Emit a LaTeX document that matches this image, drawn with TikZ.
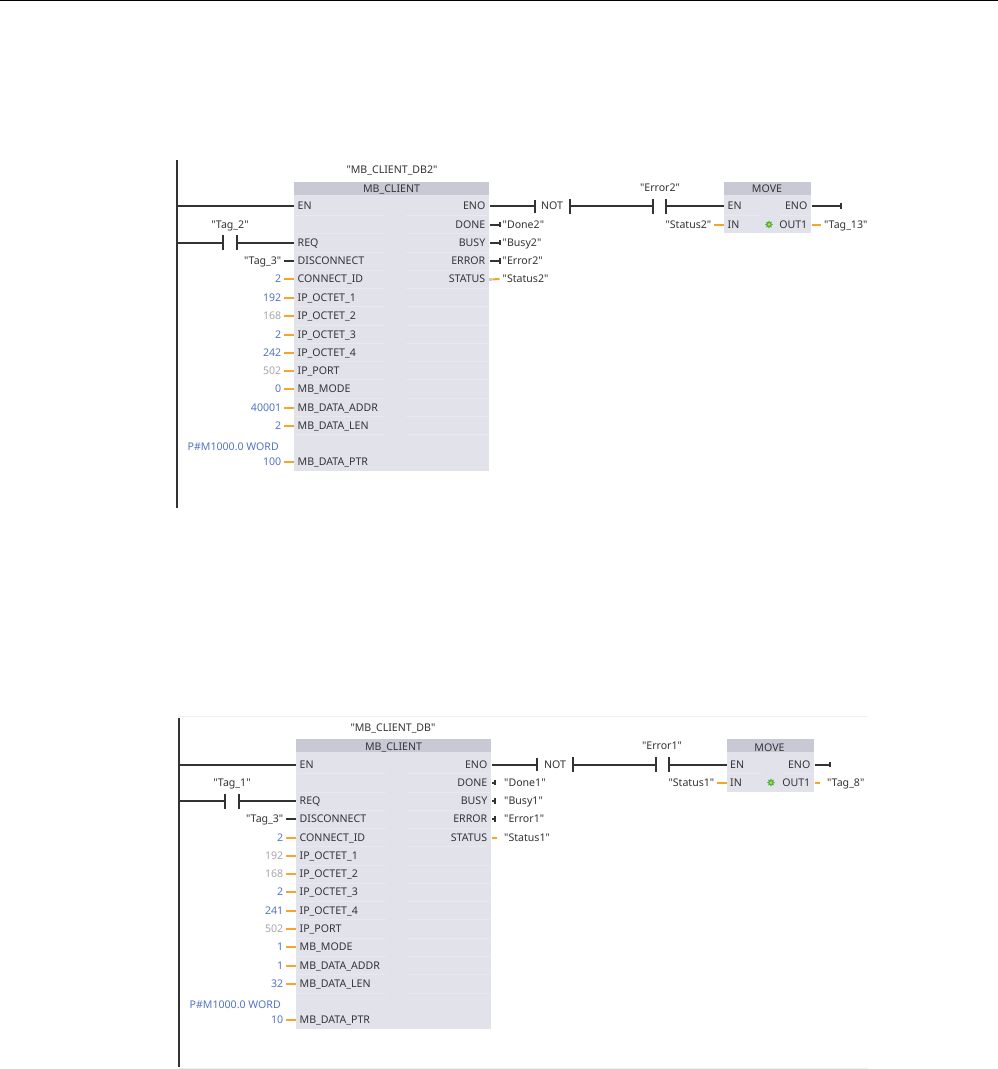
\documentclass[tikz,border=0pt]{standalone}
\usepackage{fontspec}
\newfontfamily\plcfont{Noto Sans}
\usetikzlibrary{shapes.geometric}
\definecolor{wiredark}{HTML}{333333}
\definecolor{wireorange}{HTML}{F5A52A}
\definecolor{valblue}{HTML}{5474C4}
\definecolor{valgrey}{HTML}{A8A8A8}
\definecolor{txt}{HTML}{333338}
\definecolor{blockbody}{HTML}{E2E2EA}
\definecolor{blockhead}{HTML}{C9C9D6}
\definecolor{rowline}{HTML}{E8E8EE}
\tikzset{
  lbl/.style={font=\plcfont\fontsize{10.6}{12}\selectfont,text=txt,inner ysep=0pt,inner xsep=0pt,text height=7.8pt,text depth=0.3pt},
  pinl/.style={lbl,anchor=west,inner xsep=3.5pt},
  pinr/.style={lbl,anchor=east,inner xsep=3.5pt},
  valnode/.style={lbl,anchor=east,inner xsep=2.5pt},
  outval/.style={lbl,anchor=west,inner xsep=3pt},
  bar/.style={fill=wiredark,inner sep=0pt,minimum width=2pt,minimum height=15pt},
  tick/.style={fill=wiredark,inner sep=0pt,minimum width=1.5pt,minimum height=5.5pt},
  rail/.style={draw=wiredark,line width=2.4pt},
  wire/.style={draw=wiredark,line width=2pt},
  owire/.style={draw=wireorange,line width=2pt},
  body/.style={fill=blockbody,draw=none},
  head/.style={fill=blockhead,draw=none},
  faint/.style={draw=rowline,line width=1pt},
}
% \leftpin{id}{blockx}{y}{pin text}{value}{value colour}{wire style}
\newcommand{\leftpin}[7]{%
  \node[pinl] (#1p) at (#2,#3) {#4};
  \node[valnode,text=#6] (#1v) at (#2-10,#3) {#5};
  \draw[#7] (#1v.east) -- (#1p.west);
}
% \outbit{id}{blockx}{y}{pin text}{tick x}{text x}{text}
\newcommand{\outbit}[7]{%
  \node[pinr] (#1p) at (#2,#3) {#4};
  \node[tick] (#1t) at (#5,#3) {};
  \node[outval] (#1v) at (#6,#3) {#7};
  \draw[wire] ([xshift=1pt]#1p.east) -- (#1t);
}
\newcommand{\rowseps}[3]{%
  \foreach \yy in {#3} {
    \draw[faint] (#1+1,\yy) -- (#1+90,\yy);
    \draw[faint] (#2-83,\yy) -- (#2-1,\yy);
  }
}
\begin{document}
\begin{tikzpicture}[x=1pt,y=-1pt]
\useasboundingbox (0,0) rectangle (998,1069);
\fill[white] (0,0) rectangle (998,1069);
\draw[black,line width=1pt] (0,0.8) -- (998,0.8);

% ---------- upper network ----------
\coordinate (ta) at (177,160);
\coordinate (tb) at (177,508);
\draw[rail] (ta) -- (tb);
\fill[body] (294,182) rectangle (489,471);
\fill[head] (294,182) rectangle (489,195);
\rowseps{294}{489}{215.3,233.6,252,270,288.2,306.7,325.2,343.5,361.5,379.7,398.2,416.5,434.5}
\node[lbl,anchor=center] (ahd) at (391.5,188.5) {MB\_CLIENT};
\node[lbl,anchor=center] (adb) at (392,170) {"MB\_CLIENT\_DB2"};

\node[pinl] (aen) at (294,206) {EN};
\draw[wire] (ta |- aen) -- (aen.west);
\node[bar] (ac1) at (223,242.5) {};
\node[bar] (ac2) at (237,242.5) {};
\node[lbl,anchor=center] (atag) at (230,225) {"Tag\_2"};
\node[pinl] (areq) at (294,242.5) {REQ};
\draw[wire] (ta |- ac1) -- (ac1);
\draw[wire] (ac2) -- (areq.west);
\leftpin{ad}{294}{261}{DISCONNECT}{"Tag\_3"}{txt}{wire}
\leftpin{ae}{294}{279}{CONNECT\_ID}{2}{valblue}{owire}
\leftpin{af}{294}{297.5}{IP\_OCTET\_1}{192}{valblue}{owire}
\leftpin{ag}{294}{316}{IP\_OCTET\_2}{168}{valgrey}{owire}
\leftpin{ah}{294}{334.5}{IP\_OCTET\_3}{2}{valblue}{owire}
\leftpin{ai}{294}{352.5}{IP\_OCTET\_4}{242}{valblue}{owire}
\leftpin{aj}{294}{370.5}{IP\_PORT}{502}{valgrey}{owire}
\leftpin{ak}{294}{389}{MB\_MODE}{0}{valblue}{owire}
\leftpin{al}{294}{407.5}{MB\_DATA\_ADDR}{40001}{valblue}{owire}
\leftpin{am}{294}{425.5}{MB\_DATA\_LEN}{2}{valblue}{owire}
\leftpin{an}{294}{462}{MB\_DATA\_PTR}{100}{valblue}{owire}
\node[lbl,anchor=east,text=valblue] (aptr) at (279,447) {P\#M1000.0 WORD};

\node[pinr] (aeno) at (489,206) {ENO};
\node[tick,minimum height=13pt] (an1) at (535,206) {};
\node[lbl,anchor=center] (anot) at (552,206) {NOT};
\node[bar] (an2) at (570,206) {};
\node[bar] (ae1) at (653,206) {};
\node[bar] (ae2) at (666,206) {};
\node[lbl,anchor=center] (aerr) at (660,188) {"Error2"};
\draw[wire] ([xshift=1pt]aeno.east) -- (an1);
\draw[wire] (an2) -- (ae1);
\outbit{ao}{489}{224.5}{DONE}{500}{499.5}{"Done2"}
\outbit{aq}{489}{242.5}{BUSY}{500}{499.5}{"Busy2"}
\outbit{ar}{489}{261}{ERROR}{500}{499.5}{"Error2"}
\node[pinr] (ast) at (489,279) {STATUS};
\node[outval] (asv) at (499.5,279) {"Status2"};
\node[fill=valgrey!60,inner sep=0pt,minimum width=3.5pt,minimum height=3.5pt] (asb) at (490.5,279.5) {};
\draw[owire] (asb) -- (asv.west);

\fill[body] (724,182) rectangle (811,233);
\fill[head] (724,182) rectangle (811,195);
\draw[faint] (725,215.3) -- (760,215.3);
\draw[faint] (780,215.3) -- (810,215.3);
\node[lbl,anchor=center] (amh) at (767,189) {MOVE};
\node[pinl] (amen) at (724,206) {EN};
\draw[wire] (ae2) -- (amen.west);
\node[pinl] (amin) at (724,224.5) {IN};
\node[valnode] (amiv) at (714,224.5) {"Status2"};
\draw[owire] (amiv.east) -- (amin.west);
\node[pinr] (ameno) at (811,206) {ENO};
\node[tick] (amt) at (841,206) {};
\draw[wire] ([xshift=1pt]ameno.east) -- (amt);
\node[pinr] (amo) at (811,224.5) {OUT1};
\node[outval] (amov) at (821,224.5) {"Tag\_13"};
\draw[owire] ([xshift=1pt]amo.east) -- (amov.west);
\node[star,star points=8,star point ratio=1.6,fill=green!55!black!70,inner sep=0pt,minimum size=8pt] (amst) at (769,224.5) {};
\node[circle,fill=yellow!80!green,inner sep=0pt,minimum size=3pt] (amsc) at (amst) {};

% ---------- lower network ----------
\draw[rowline!70,line width=1pt] (178,716) -- (868,716);
\draw[rowline!70,line width=1pt] (178,1068) -- (868,1068);
\coordinate (ba) at (179,718);
\coordinate (bb) at (179,1067);
\draw[rail] (ba) -- (bb);
\fill[body] (296,739) rectangle (491,1029);
\fill[head] (296,739) rectangle (491,752);
\rowseps{296}{491}{773.8,792,810.5,828.5,846.8,865,883.2,901.5,919.7,938,956.5,974.7,993}
\node[lbl,anchor=center] (bhd) at (393.5,747) {MB\_CLIENT};
\node[lbl,anchor=center] (bdb) at (393,727.5) {"MB\_CLIENT\_DB"};

\node[pinl] (ben) at (296,764.5) {EN};
\draw[wire] (ba |- ben) -- (ben.west);
\node[bar] (bc1) at (225,801) {};
\node[bar] (bc2) at (239,801) {};
\node[lbl,anchor=center] (btag) at (232,782.5) {"Tag\_1"};
\node[pinl] (breq) at (296,801) {REQ};
\draw[wire] (ba |- bc1) -- (bc1);
\draw[wire] (bc2) -- (breq.west);
\leftpin{bd}{296}{819}{DISCONNECT}{"Tag\_3"}{txt}{wire}
\leftpin{be}{296}{837.5}{CONNECT\_ID}{2}{valblue}{owire}
\leftpin{bf}{296}{855.5}{IP\_OCTET\_1}{192}{valgrey}{owire}
\leftpin{bg}{296}{874}{IP\_OCTET\_2}{168}{valgrey}{owire}
\leftpin{bh}{296}{892}{IP\_OCTET\_3}{2}{valblue}{owire}
\leftpin{bi}{296}{910.5}{IP\_OCTET\_4}{241}{valblue}{owire}
\leftpin{bj}{296}{928.5}{IP\_PORT}{502}{valgrey}{owire}
\leftpin{bk}{296}{947}{MB\_MODE}{1}{valblue}{owire}
\leftpin{bl}{296}{965.5}{MB\_DATA\_ADDR}{1}{valblue}{owire}
\leftpin{bm}{296}{983.5}{MB\_DATA\_LEN}{32}{valblue}{owire}
\leftpin{bn}{296}{1020}{MB\_DATA\_PTR}{10}{valblue}{owire}
\node[lbl,anchor=east,text=valblue] (bptr) at (281,1005) {P\#M1000.0 WORD};

\node[pinr] (beno) at (491,764.5) {ENO};
\node[tick,minimum height=13pt] (bn1) at (537,764.5) {};
\node[lbl,anchor=center] (bnot) at (555,764.5) {NOT};
\node[bar] (bn2) at (573,764.5) {};
\node[bar] (be1) at (656,764.5) {};
\node[bar] (be2) at (669,764.5) {};
\node[lbl,anchor=center] (berr) at (662,745.5) {"Error1"};
\draw[wire] ([xshift=1pt]beno.east) -- (bn1);
\draw[wire] (bn2) -- (be1);
\outbit{bo}{491}{782.5}{DONE}{495}{501}{"Done1"}
\outbit{bq}{491}{801}{BUSY}{495}{501}{"Busy1"}
\outbit{br}{491}{819}{ERROR}{495}{501}{"Error1"}
\node[pinr] (bst) at (491,837.5) {STATUS};
\node[outval] (bsv) at (501,837.5) {"Status1"};
\coordinate (bse) at (497,837.5);
\draw[owire] ([xshift=1pt]bst.east) -- (bse);

\fill[body] (726.5,739) rectangle (814,792);
\fill[head] (726.5,739) rectangle (814,752);
\draw[faint] (727,773.8) -- (762,773.8);
\draw[faint] (782,773.8) -- (813,773.8);
\node[lbl,anchor=center] (bmh) at (769.5,747.5) {MOVE};
\node[pinl] (bmen) at (726.5,764.5) {EN};
\draw[wire] (be2) -- (bmen.west);
\node[pinl] (bmin) at (726.5,782.5) {IN};
\node[valnode] (bmiv) at (717,782.5) {"Status1"};
\draw[owire] (bmiv.east) -- (bmin.west);
\node[pinr] (bmeno) at (814,764.5) {ENO};
\node[tick] (bmt) at (830,764.5) {};
\draw[wire] ([xshift=1pt]bmeno.east) -- (bmt);
\node[pinr] (bmo) at (814,782.5) {OUT1};
\node[outval] (bmov) at (824,782.5) {"Tag\_8"};
\coordinate (bmoe) at (820,782.5);
\draw[owire] ([xshift=1pt]bmo.east) -- (bmoe);
\node[star,star points=8,star point ratio=1.6,fill=green!55!black!70,inner sep=0pt,minimum size=8pt] (bmst) at (771,782.5) {};
\node[circle,fill=yellow!80!green,inner sep=0pt,minimum size=3pt] (bmsc) at (bmst) {};
\end{tikzpicture}
\end{document}
